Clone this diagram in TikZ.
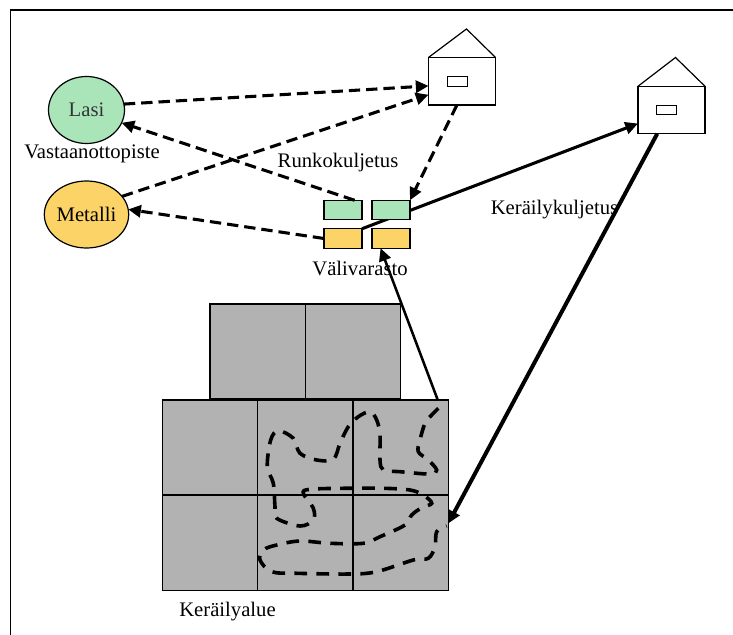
\documentclass[tikz,border=0pt]{standalone}
\usepackage{fontspec}
\setmainfont{Liberation Serif}
\usetikzlibrary{arrows.meta,backgrounds,shapes.geometric}
\definecolor{glass}{HTML}{AAE5BA}
\definecolor{metal}{HTML}{FBD367}
\definecolor{area}{HTML}{B2B2B2}
\tikzset{
  outline/.style={draw=black,line width=0.9pt,inner sep=0,outer sep=0},
  pointnode/.style={outline,ellipse,minimum width=57pt,minimum height=50.25pt,font=\fontsize{15.5}{18}\selectfont},
  store/.style={outline,rectangle,minimum width=28.5pt,minimum height=14.6pt},
  body/.style={outline,rectangle,fill=white,minimum width=50.25pt,minimum height=35.6pt},
  window/.style={outline,rectangle,fill=white,line width=0.7pt,minimum width=14.5pt,minimum height=7.2pt},
  cell/.style={outline,rectangle,fill=area,minimum width=71.5pt,minimum height=71.3pt},
  label/.style={inner sep=0,font=\fontsize{15.5}{18}\selectfont},
  tip/.style={-{Triangle[length=9.5pt,width=9pt]}},
  dashline/.style={tip,line width=2.3pt,dash pattern=on 8.5pt off 4.5pt},
  solidline/.style={tip,line width=2.3pt},
  heavyline/.style={tip,line width=3pt},
  route/.style={line width=2.7pt,dash pattern=on 9.5pt off 7pt}
}
\begin{document}
\begin{tikzpicture}[x=0.75pt,y=-0.75pt]
\useasboundingbox (0,0) rectangle (733,635);
\draw[line width=1.2pt] (10.5,635) -- (10.5,10) -- (733,10);
% collection area
\node[cell] (u1) at (257.7,351.5) {};
\node[cell] (u2) at (353,351.5) {};
\node[cell] (a1) at (210,447.5) {};
\node[cell] (a2) at (305.3,447.5) {};
\node[cell] (a3) at (400.6,447.5) {};
\node[cell] (b1) at (210,542.7) {};
\node[cell] (b2) at (305.3,542.7) {};
\node[cell] (b3) at (400.6,542.7) {};
% points
\node[pointnode,fill=glass] (lasi) at (86.5,110) {\textcolor{black!80}{Lasi}};
\node[pointnode,fill=metal] (metalli) at (86.5,214.5) {Metalli};
% stores
\node[store,fill=glass] (g1) at (343,210) {};
\node[store,fill=glass] (g2) at (391,210) {};
\node[store,fill=metal] (o1) at (343,238.5) {};
\node[store,fill=metal] (o2) at (391,238.5) {};
% houses
\node[body] (h1) at (462,81.2) {};
\coordinate (h1top) at (466.5,29);
\draw[line width=0.9pt] (h1.north west) -- (h1top) -- (h1.north east);
\node[window] (w1) at (457.3,81.3) {};
\node[body] (h2) at (671.5,110) {};
\coordinate (h2top) at (675.5,57.5);
\draw[line width=0.9pt] (h2.north west) -- (h2top) -- (h2.north east);
\node[window] (w2) at (666.3,110) {};
% connectors
\draw[dashline] (lasi.9) -- (h1.188);
\draw[dashline] (metalli.27) -- (h1.202);
\draw[dashline] (g1.40) -- (lasi.-20);
\draw[dashline] (o1.west) -- (metalli.7);
\draw[dashline] (h1.258) -- (g2.north east);
\begin{pgfonlayer}{background}
\draw[solidline] (o1.north east) -- (h2.202.7);
\end{pgfonlayer}
\draw[heavyline] (h2.239) -- (b3.22);
\draw[solidline,line width=1.9pt] (a3.52) -- (o2.223.5);
% collection route
\draw[route] plot[smooth,tension=0.55] coordinates {
(438.3,408.3) (431.7,415) (425,423.3) (420,440) (418.3,451.7) (428.3,460) (436.7,470) (430,474)
(400,471.7) (383.3,470) (380,460) (380,435) (376.7,420) (370,411.7) (358.3,416.7) (348.3,426.7)
(340,443.3) (333.3,459.3) (316.7,460) (300,453.3) (293.3,438.3) (278.3,430.7) (270.7,440)
(267.3,466.7) (273.3,483.3) (275,506.7) (276.7,518.3) (300,526) (313.3,520) (313.3,508.3)
(303.3,493.3) (310,489.3) (343.3,488.3) (383.3,488.3) (410,490) (423.3,495) (431.7,503.3)
(421.7,507.7) (411.7,515) (405,525) (380,536.7) (363.3,543.3) (330,543.3) (300,541) (276.7,545)
(263.3,550) (260,560) (271.7,571.7) (296.7,573.3) (350,574) (376.7,571.7) (413.3,560) (428.3,558.3)
(435,546.7) (436.7,531.7) (446.7,526)};
% labels
\node[label] (tv) at (92,154) {Vastaanottopiste};
\node[label] (tr) at (338,163) {Runkokuljetus};
\node[label] (tk) at (554.5,210) {Keräilykuljetus};
\node[label] (tl) at (360,268) {Välivarasto};
\node[label] (ta) at (227.5,611.5) {Keräilyalue};
\end{tikzpicture}
\end{document}
